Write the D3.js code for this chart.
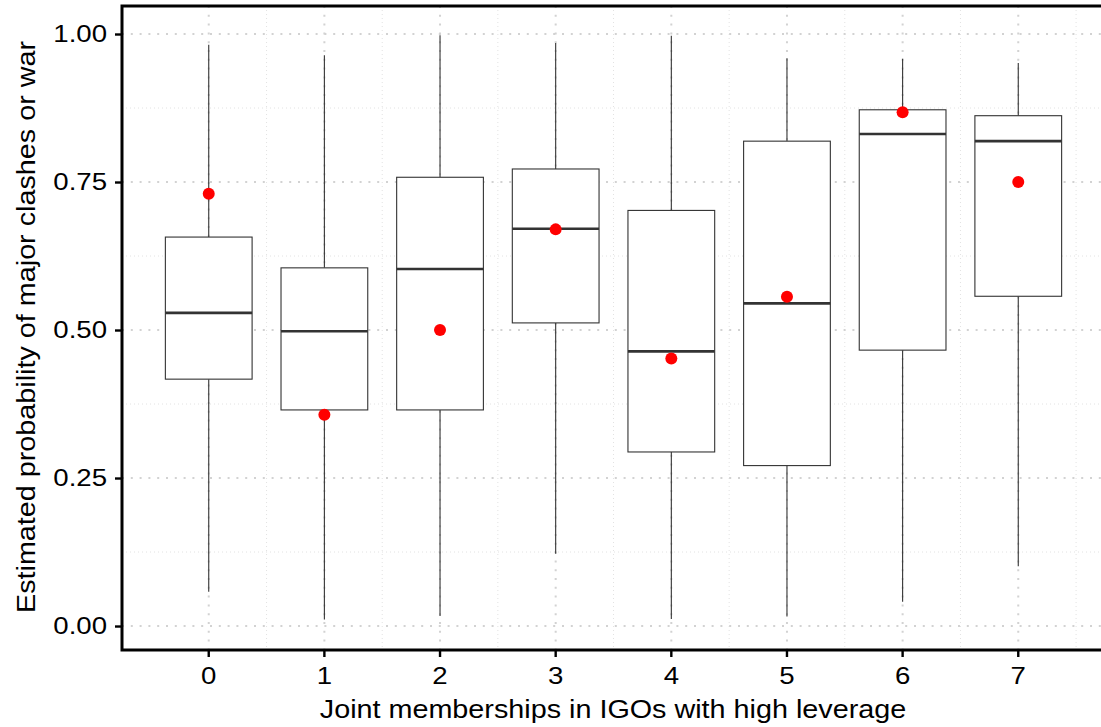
<!DOCTYPE html>
<html>
<head>
<meta charset="utf-8">
<script src="https://cdn.jsdelivr.net/npm/d3@7"></script>
<style>
  html, body { margin: 0; padding: 0; background: #fff; }
  svg { display: block; font-family: "Liberation Sans", Arial, sans-serif; }
</style>
</head>
<body>
<svg id="chart" width="1101" height="727"></svg>
<script>
// Number of joint IGO memberships with high leverage
const categories = ["0", "1", "2", "3", "4", "5", "6", "7"];
// Box-plot summaries of the estimated probability
const whiskerLow  = [0.058, 0.011, 0.017, 0.122, 0.012, 0.016, 0.041, 0.101];
const q1          = [0.417, 0.365, 0.365, 0.512, 0.294, 0.271, 0.466, 0.557];
const median      = [0.529, 0.498, 0.603, 0.671, 0.464, 0.545, 0.831, 0.819];
const q3          = [0.657, 0.605, 0.758, 0.772, 0.702, 0.819, 0.872, 0.862];
const whiskerHigh = [0.982, 0.964, 0.998, 0.985, 0.997, 0.959, 0.958, 0.951];
// Observed share per category (red points)
const observed    = [0.730, 0.357, 0.500, 0.670, 0.452, 0.556, 0.868, 0.750];
// Axis ticks
const yTicks = [0, 0.25, 0.5, 0.75, 1];
const yMinor = [0.125, 0.375, 0.625, 0.875];

const svg = d3.select("#chart");
const W = 1101, H = 727;
// the panel runs slightly past the right edge of the canvas
const panel = { x0: 122, x1: 1105, y0: 6, y1: 650 };

const x = d3.scaleBand().domain(categories)
  .range([panel.x0, panel.x1]).paddingInner(0.25).paddingOuter(0.375);
const y = d3.scaleLinear().domain([-0.0405, 1.0473]).range([panel.y1, panel.y0]);

const cx = c => x(c) + x.bandwidth() / 2;
const rows = categories.map((c, i) => ({
  c, lo: whiskerLow[i], q1: q1[i], med: median[i], q3: q3[i], hi: whiskerHigh[i], obs: observed[i]
}));

// Stretch text horizontally a little (wide sans look)
function widen(sel, f) {
  sel.each(function () {
    const len = this.getComputedTextLength();
    d3.select(this).attr("textLength", len * f).attr("lengthAdjust", "spacingAndGlyphs");
  });
}

// Grid: minor lines first, then major
const grid = svg.append("g");
yMinor.forEach(v => grid.append("line")
  .attr("x1", panel.x0).attr("x2", panel.x1).attr("y1", y(v)).attr("y2", y(v))
  .attr("stroke", "#e2e2e2").attr("stroke-width", 1).attr("stroke-dasharray", "1,3"));
categories.forEach((c, i) => {
  const mx = cx(c) + x.step() / 2;
  grid.append("line").attr("x1", mx).attr("x2", mx).attr("y1", panel.y0).attr("y2", panel.y1)
    .attr("stroke", "#e2e2e2").attr("stroke-width", 1).attr("stroke-dasharray", "1,3");
});
yTicks.forEach(v => grid.append("line")
  .attr("x1", panel.x0).attr("x2", panel.x1).attr("y1", y(v)).attr("y2", y(v))
  .attr("stroke", "#d2d2d2").attr("stroke-width", 2).attr("stroke-dasharray", "2,6.8"));
categories.forEach(c => grid.append("line")
  .attr("x1", cx(c)).attr("x2", cx(c)).attr("y1", panel.y0).attr("y2", panel.y1)
  .attr("stroke", "#d2d2d2").attr("stroke-width", 2).attr("stroke-dasharray", "2,6.8"));

// Boxes
const boxes = svg.append("g").selectAll("g").data(rows).join("g");
boxes.append("line").attr("x1", d => cx(d.c)).attr("x2", d => cx(d.c))
  .attr("y1", d => y(d.q3)).attr("y2", d => y(d.hi))
  .attr("stroke", "#333").attr("stroke-width", 1.1);
boxes.append("line").attr("x1", d => cx(d.c)).attr("x2", d => cx(d.c))
  .attr("y1", d => y(d.q1)).attr("y2", d => y(d.lo))
  .attr("stroke", "#333").attr("stroke-width", 1.1);
boxes.append("rect").attr("x", d => x(d.c)).attr("width", x.bandwidth())
  .attr("y", d => y(d.q3)).attr("height", d => y(d.q1) - y(d.q3))
  .attr("fill", "#fff").attr("stroke", "#333").attr("stroke-width", 1.1);
boxes.append("line").attr("x1", d => x(d.c)).attr("x2", d => x(d.c) + x.bandwidth())
  .attr("y1", d => y(d.med)).attr("y2", d => y(d.med))
  .attr("stroke", "#333").attr("stroke-width", 2.6);

// Observed points
svg.append("g").selectAll("circle").data(rows).join("circle")
  .attr("cx", d => cx(d.c)).attr("cy", d => y(d.obs)).attr("r", 6)
  .attr("fill", "#ff0000");

// Axes
const yAxis = svg.append("g").attr("transform", `translate(${panel.x0},0)`)
  .call(d3.axisLeft(y).tickValues(yTicks).tickFormat(d3.format(".2f")).tickSize(7).tickPadding(8));
const xAxis = svg.append("g").attr("transform", `translate(0,${panel.y1})`)
  .call(d3.axisBottom(x).tickSize(7).tickPadding(10));
[yAxis, xAxis].forEach(a => {
  a.select(".domain").remove();
  a.selectAll(".tick line").attr("stroke", "#000").attr("stroke-width", 2.4);
  a.selectAll(".tick text").attr("fill", "#000").attr("font-size", null).style("font-size", "24px")
    .style("font-family", "'Liberation Sans', Arial, sans-serif");
  a.attr("font-size", null);
  widen(a.selectAll(".tick text"), 1.15);
});

// Panel frame: top, left and bottom edges
const frame = svg.append("g").attr("stroke", "#000").attr("stroke-width", 3).attr("fill", "none");
frame.append("path")
  .attr("d", `M${panel.x1},${panel.y0}H${panel.x0}V${panel.y1}H${panel.x1}`);

// Axis titles
const xTitle = svg.append("text").attr("x", 613).attr("y", 718)
  .attr("text-anchor", "middle").style("font-size", "25px").attr("fill", "#000")
  .text("Joint memberships in IGOs with high leverage");
const yTitle = svg.append("text")
  .attr("transform", `translate(35,327) rotate(-90)`)
  .attr("text-anchor", "middle").style("font-size", "25px").attr("fill", "#000")
  .text("Estimated probability of major clashes or war");
widen(xTitle, 1.15);
widen(yTitle, 1.15);
</script>
</body>
</html>
